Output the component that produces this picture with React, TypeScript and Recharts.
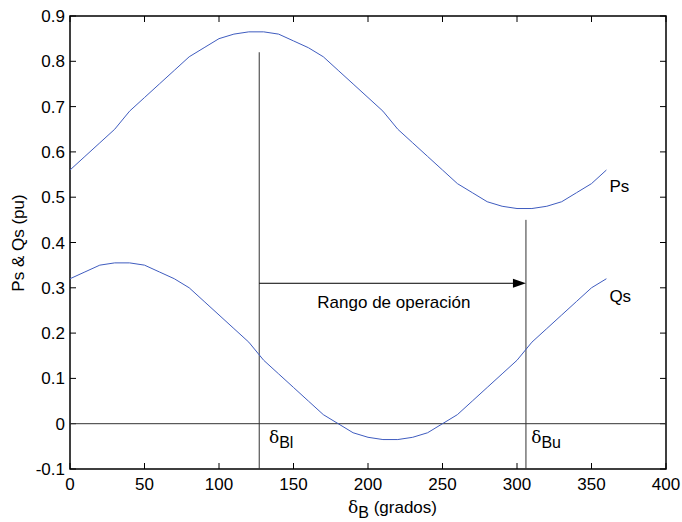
import React from 'react';
import { LineChart, Line, XAxis, YAxis, ReferenceLine, ReferenceDot, ReferenceArea } from 'recharts';

// angle δB (degrees) and per-unit powers
const angles = [0, 10, 20, 30, 40, 50, 60, 70, 80, 90, 100, 110, 120, 130, 140, 150, 160, 170, 180,
  190, 200, 210, 220, 230, 240, 250, 260, 270, 280, 290, 300, 310, 320, 330, 340, 350, 360];
const psValues = [0.56, 0.59, 0.62, 0.65, 0.69, 0.72, 0.75, 0.78, 0.81, 0.83, 0.85, 0.86, 0.865, 0.865,
  0.86, 0.845, 0.83, 0.81, 0.78, 0.75, 0.72, 0.69, 0.65, 0.62, 0.59, 0.56, 0.53, 0.51, 0.49, 0.48,
  0.475, 0.475, 0.48, 0.49, 0.51, 0.53, 0.56];
const qsValues = [0.32, 0.335, 0.35, 0.355, 0.355, 0.35, 0.335, 0.32, 0.3, 0.27, 0.24, 0.21, 0.18, 0.14,
  0.11, 0.08, 0.05, 0.02, 0.0, -0.02, -0.03, -0.035, -0.035, -0.03, -0.02, 0.0, 0.02, 0.05, 0.08, 0.11,
  0.14, 0.18, 0.21, 0.24, 0.27, 0.3, 0.32];

const xTicks = [0, 50, 100, 150, 200, 250, 300, 350, 400];
const yTicks = [-0.1, 0, 0.1, 0.2, 0.3, 0.4, 0.5, 0.6, 0.7, 0.8, 0.9];

// operating range limits
const deltaLower = 127;
const deltaUpper = 306;
const lowerTop = 0.82;
const upperTop = 0.45;
const arrowLevel = 0.31;

const data = angles.map((a, i) => ({ angle: a, ps: psValues[i], qs: qsValues[i] }));

const FONT = '"Liberation Sans", Arial, Helvetica, sans-serif';
const LINE = '#3f5cbf';
const INK = '#333';
const TICK_LEN = 6;

const fmtY = (v: number) => (v === 0 ? '0' : v.toFixed(1));

// inward tick marks on both ends of a gridline position (matlab box style)
const VTicks = (p: any) => {
  const top = Math.min(p.y1, p.y2);
  const bot = Math.max(p.y1, p.y2);
  return (
    <g stroke="#000" strokeWidth={1}>
      <line x1={p.x1} y1={bot} x2={p.x1} y2={bot - TICK_LEN} />
      <line x1={p.x1} y1={top} x2={p.x1} y2={top + TICK_LEN} />
    </g>
  );
};
const HTicks = (p: any) => {
  const l = Math.min(p.x1, p.x2);
  const r = Math.max(p.x1, p.x2);
  return (
    <g stroke="#000" strokeWidth={1}>
      <line x1={l} y1={p.y1} x2={l + TICK_LEN} y2={p.y1} />
      <line x1={r} y1={p.y1} x2={r - TICK_LEN} y2={p.y1} />
    </g>
  );
};

const Arrow = (p: any) => {
  const { x1, y1, x2, y2 } = p;
  return (
    <g>
      <line x1={x1} y1={y1} x2={x2 - 10} y2={y2} stroke="#000" strokeWidth={1} />
      <polygon points={`${x2},${y2} ${x2 - 13},${y2 - 4.5} ${x2 - 13},${y2 + 4.5}`} fill="#000" />
    </g>
  );
};

const textAt = (label: string, sub?: string) => (p: any) => (
  <text x={p.cx} y={p.cy} fontFamily={FONT} fontSize={17} fill="#000">
    {sub ? (
      <>
        <tspan fontFamily="DejaVu Serif, serif">{label}</tspan>
        <tspan dy={5} fontSize={16}>{sub}</tspan>
      </>
    ) : label}
  </text>
);

const XTitle = (p: any) => {
  const vb = p.viewBox;
  return (
    <text x={vb.x + 278} y={vb.y + 44} fontFamily={FONT} fontSize={17} fill="#000">
      <tspan fontFamily="DejaVu Serif, serif">δ</tspan>
      <tspan dy={5} fontSize={16}>B</tspan>
      <tspan dy={-5}>{'  (grados)'}</tspan>
    </text>
  );
};

const YTitle = (p: any) => {
  const vb = p.viewBox;
  const cx = vb.x + 18;
  const cy = 243;
  return (
    <text x={cx} y={cy} transform={`rotate(-90 ${cx} ${cy})`} textAnchor="middle"
      dominantBaseline="central" fontFamily={FONT} fontSize={17} fill="#000">
      Ps &amp; Qs (pu)
    </text>
  );
};

const tickStyle = { fill: '#000', fontSize: 17, fontFamily: FONT };

export default function App() {
  return (
    <div style={{ position: 'absolute', left: 0, top: 0, width: 682, height: 522, background: '#fff' }}>
      <LineChart width={682} height={522} data={data} margin={{ top: 16, right: 16, bottom: 0, left: 0 }}>
        <XAxis dataKey="angle" type="number" domain={[0, 400]} ticks={xTicks} height={53}
          axisLine={false} tickLine={false} tickSize={0} tickMargin={9}
          tick={tickStyle} label={{ content: XTitle }} />
        <YAxis type="number" domain={[-0.1, 0.9]} ticks={yTicks} width={70} interval={0}
          axisLine={false} tickLine={false} tickSize={0} tickMargin={5}
          tick={tickStyle} tickFormatter={fmtY} label={{ content: YTitle }} />

        <ReferenceArea x1={0} x2={400} y1={-0.1} y2={0.9} fill="none" fillOpacity={0}
          stroke="#000" strokeWidth={1.5} />
        {xTicks.map((v) => (
          <ReferenceLine key={`xt${v}`} x={v} shape={VTicks} />
        ))}
        {yTicks.map((v) => (
          <ReferenceLine key={`yt${v}`} y={v} shape={HTicks} />
        ))}

        <ReferenceLine y={0} stroke={INK} strokeWidth={1} />
        <ReferenceLine segment={[{ x: deltaLower, y: -0.1 }, { x: deltaLower, y: lowerTop }]}
          stroke={INK} strokeWidth={1} />
        <ReferenceLine segment={[{ x: deltaUpper, y: -0.1 }, { x: deltaUpper, y: upperTop }]}
          stroke={INK} strokeWidth={1} />
        <ReferenceLine segment={[{ x: deltaLower, y: arrowLevel }, { x: deltaUpper, y: arrowLevel }]}
          shape={Arrow} />

        <Line dataKey="ps" stroke={LINE} strokeWidth={1} dot={false} isAnimationActive={false} />
        <Line dataKey="qs" stroke={LINE} strokeWidth={1} dot={false} isAnimationActive={false} />

        <ReferenceDot x={362} y={0.512} r={0} shape={textAt('Ps')} />
        <ReferenceDot x={362} y={0.269} r={0} shape={textAt('Qs')} />
        <ReferenceDot x={166} y={0.256} r={0} shape={textAt('Rango de operación')} />
        <ReferenceDot x={133.5} y={-0.042} r={0} shape={textAt('δ', 'Bl')} />
        <ReferenceDot x={309.5} y={-0.042} r={0} shape={textAt('δ', 'Bu')} />
      </LineChart>
    </div>
  );
}
